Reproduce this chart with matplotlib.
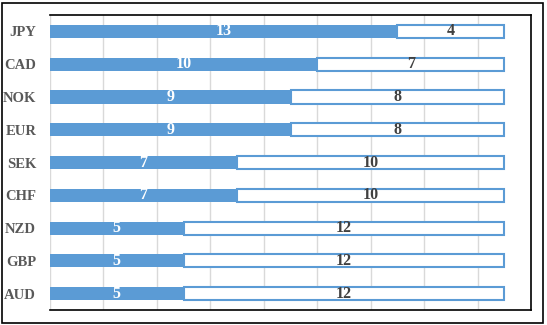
import matplotlib.pyplot as plt

currencies = ['JPY', 'CAD', 'NOK', 'EUR', 'SEK', 'CHF', 'NZD', 'GBP', 'AUD']
filled = [13, 10, 9, 9, 7, 7, 5, 5, 5]
rest = [4, 7, 8, 8, 10, 10, 12, 12, 12]

blue = '#5B9BD5'
plt.rcParams['font.family'] = ['Liberation Serif', 'DejaVu Serif']

fig = plt.figure(figsize=(5.47, 3.25), dpi=100)
ax = fig.add_axes([50 / 547, 15 / 325, 481 / 547, 295 / 325])

ypos = list(range(len(currencies)))
ax.barh(ypos, filled, height=0.4, color=blue, zorder=3)
ax.barh(ypos, rest, left=filled, height=0.4, color='white',
        edgecolor=blue, linewidth=1.5, zorder=3)

for y, a, b in zip(ypos, filled, rest):
    ax.text(a / 2, y, str(a), ha='center', va='center', color='white',
            fontsize=11.5, fontweight='bold', zorder=4)
    ax.text(a + b / 2, y, str(b), ha='center', va='center', color='#404040',
            fontsize=11.5, fontweight='bold', zorder=4)

ax.set_xlim(0, 18)
ax.set_ylim(len(currencies) - 0.5, -0.5)
ax.set_xticks(range(0, 19, 2))
ax.set_xticklabels([])
ax.set_yticks(ypos)
ax.set_yticklabels(currencies, fontsize=10.5, fontweight='bold', color='#595959')
ax.tick_params(length=0, pad=10)
ax.grid(axis='x', color='#D9D9D9', linewidth=1, zorder=0)

ax.spines['left'].set_visible(False)
for s in ['top', 'right', 'bottom']:
    ax.spines[s].set_color('black')
    ax.spines[s].set_linewidth(1.2)

fig.patches.append(plt.Rectangle((2 / 547, 2 / 325), 541 / 547, 320 / 325,
                                 transform=fig.transFigure, fill=False,
                                 edgecolor='black', linewidth=1.2))

fig.savefig('out.png', dpi=100)
